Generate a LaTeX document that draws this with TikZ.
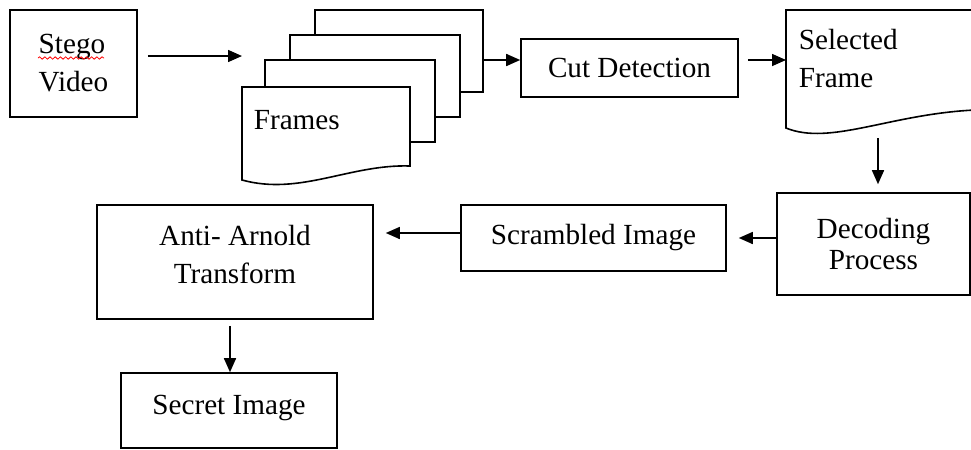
\documentclass[tikz,border=0pt]{standalone}
\usepackage{fontspec}
\setmainfont{Liberation Serif}
\usetikzlibrary{positioning, arrows.meta, decorations.pathmorphing}

\begin{document}
\begin{tikzpicture}[x=0.5pt, y=-0.5pt, line width=0.8pt,
        font=\fontsize{14.6}{19}\selectfont,
        blk/.style={rectangle, draw, inner sep=0pt, align=center},
        arr/.style={-{Triangle[length=7pt, width=6pt]}},
        sheet/.style={draw, fill=white}]
            \useasboundingbox (0,0) rectangle (971,450);

            % boxes
            \node[blk, align=left, minimum width=63.5pt, minimum height=53.5pt] (v) at (73.5,63.5) {Stego\\Video};
            \node[blk, minimum width=108.5pt, minimum height=29pt] (cd) at (629.5,68) {Cut Detection};
            \node[blk, minimum width=96.5pt, minimum height=51pt, font=\fontsize{14.6}{15.5}\selectfont] (dp) at (873.5,244) {Decoding\\Process};
            \node[blk, minimum width=132.5pt, minimum height=33pt] (si) at (593.5,238) {Scrambled Image};
            \node[blk, minimum width=138pt, minimum height=57pt, text depth=8pt] (aa) at (235,262) {Anti- Arnold\\Transform};
            \node[blk, minimum width=108pt, minimum height=37.5pt, text depth=5.5pt] (sec) at (229,410.5) {Secret Image};

            \draw[red, line width=0.4pt, decorate, decoration={snake, amplitude=0.6pt, segment length=2.6pt}] (38,58) -- (104,58);

            % stack of frames
            \draw[sheet] (315,10) rectangle (483,92);
            \draw[sheet] (290,35) rectangle (460,117);
            \draw[sheet] (265,60) rectangle (435,142);
            \draw[sheet] (242,87) -- (410,87) -- (410,166) .. controls (350,164) and (300,196) .. (242,180) -- cycle;
            \node[inner sep=0pt, anchor=west] (fr) at (253,120) {Frames};

            % selected frame
            \draw (975,10) -- (786,10) -- (786,128) .. controls (830,146) and (890,114) .. (975,110);
            \node[inner sep=0pt, anchor=west, align=left] (sf) at (798,59) {Selected\\Frame};

            \coordinate (a1) at (242,56);
            \coordinate (a2) at (483,60);
            \coordinate (a3) at (786,60);
            \coordinate (a4) at (878,138);
            \coordinate (a6) at (472,233);
            \coordinate (a7) at (230,0);

            \draw[arr, shorten <=5pt] (v.east |- a1) -- (a1);
            \draw[arr] (a2) -- (a2 -| cd.west);
            \draw[arr, shorten <=4.5pt] (cd.east |- a3) -- (a3);
            \draw[arr, shorten >=4pt] (a4) -- (a4 |- dp.north);
            \draw[arr, shorten >=6pt] (dp.west |- si.east) -- (si.east);
            \draw[arr, shorten >=6pt] (si.west |- a6) -- (aa.east |- a6);
            \draw[arr, shorten <=3pt] (aa.south -| a7) -- (sec.north -| a7);
        \end{tikzpicture}
\end{document}
